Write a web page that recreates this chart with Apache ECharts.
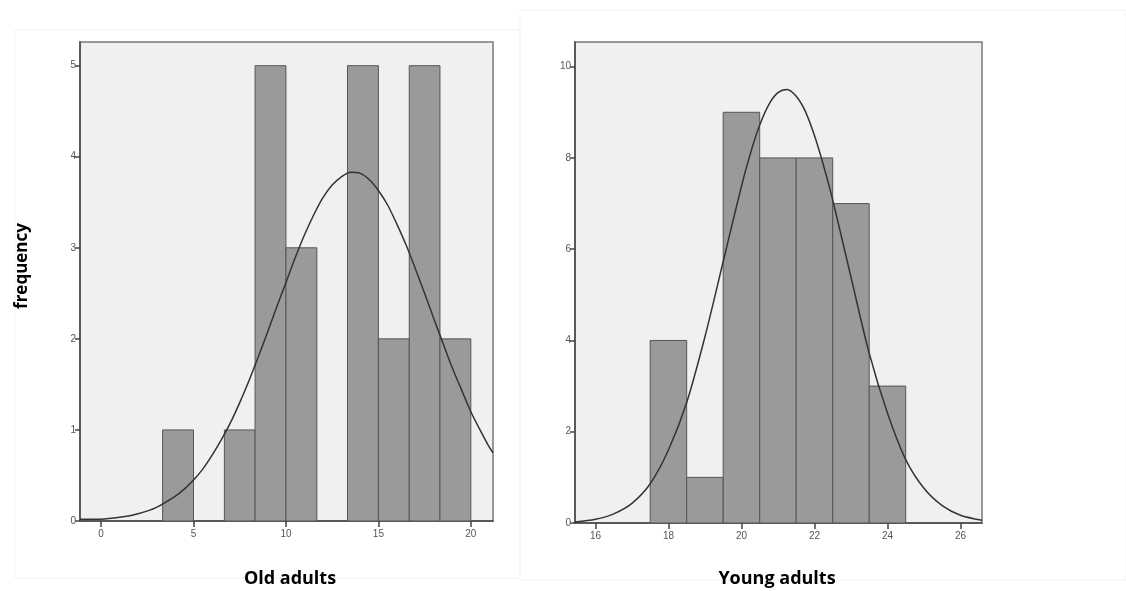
<!DOCTYPE html>
<html>
<head>
<meta charset="utf-8">
<script src="https://cdn.jsdelivr.net/npm/echarts@6/dist/echarts.min.js"></script>
<style>
html,body{margin:0;padding:0;background:#fff;}
#chart{width:1126px;height:591px;}
</style>
</head>
<body>
<div id="chart"></div>
<script>
// ---- Data ----
const oldBinEdges = [3.33, 5, 6.67, 8.33, 10, 11.67, 13.33, 15, 16.67, 18.33, 20];
const oldCounts = [1, 0, 1, 5, 3, 0, 5, 2, 5, 2];
const oldCurve = [[-1.14,0.02],[0,0.02],[1,0.04],[2,0.08],[3,0.15],[4,0.27],[4.5,0.35],[5,0.45],[5.5,0.57],[6,0.72],[6.5,0.89],[7,1.08],[7.5,1.3],[8,1.54],[8.5,1.8],[9,2.07],[9.5,2.35],[10,2.62],[10.5,2.89],[11,3.14],[11.5,3.36],[12,3.55],[12.5,3.69],[13,3.78],[13.5,3.83],[14,3.82],[14.5,3.75],[15,3.63],[15.5,3.47],[16,3.26],[16.5,3.03],[17,2.77],[17.5,2.5],[18,2.22],[18.5,1.95],[19,1.68],[19.5,1.44],[20,1.2],[20.5,1.0],[21,0.81],[21.2,0.75]];
const oldXTicks = [0, 5, 10, 15, 20];
const oldYTicks = [0, 1, 2, 3, 4, 5];

const youngBinEdges = [17.5, 18.5, 19.5, 20.5, 21.5, 22.5, 23.5, 24.5];
const youngCounts = [4, 1, 9, 8, 8, 7, 3];
const youngCurve = [[15.44,0.02],[16,0.08],[16.5,0.2],[17,0.43],[17.5,0.86],[18,1.6],[18.5,2.64],[19,4.08],[19.5,5.73],[20,7.38],[20.25,8.11],[20.5,8.72],[20.75,9.17],[21,9.43],[21.25,9.5],[21.5,9.35],[21.75,9.02],[22,8.49],[22.25,7.83],[22.5,7.08],[23,5.39],[23.5,3.72],[24,2.41],[24.5,1.39],[25,0.76],[25.5,0.38],[26,0.17],[26.59,0.06]];
const youngXTicks = [16, 18, 20, 22, 24, 26];
const youngYTicks = [0, 2, 4, 6, 8, 10];

const panelTitles = ['Old adults', 'Young adults'];
const yAxisTitle = 'frequency';

// ---- Build ----
function binData(edges, counts) {
  const out = [];
  for (let i = 0; i < counts.length; i++) out.push([edges[i], edges[i + 1], counts[i]]);
  return out;
}
function renderBin(params, api) {
  const c = api.value(2);
  if (!c) return null;
  const p0 = api.coord([api.value(0), c]);
  const p1 = api.coord([api.value(1), 0]);
  return {
    type: 'rect',
    shape: { x: p0[0], y: p0[1], width: p1[0] - p0[0], height: p1[1] - p0[1] },
    style: { fill: '#9a9a9a', stroke: '#555', lineWidth: 1 }
  };
}
const axisLabelStyle = { color: '#555', fontSize: 10, fontFamily: 'Liberation Sans, Arial, sans-serif' };
function xAxis(gi, min, max, ticks) {
  return {
    type: 'value', gridIndex: gi, min: min, max: max,
    splitLine: { show: false },
    axisLine: { show: true, onZero: false, lineStyle: { color: '#444', width: 1.5 } },
    axisTick: { show: true, length: 6, customValues: ticks, lineStyle: { color: '#444', width: 1.5 } },
    axisLabel: Object.assign({ customValues: ticks, margin: 8 }, axisLabelStyle)
  };
}
function yAxis(gi, max, ticks) {
  return {
    type: 'value', gridIndex: gi, min: 0, max: max,
    splitLine: { show: false },
    axisLine: { show: true, onZero: false, lineStyle: { color: '#444', width: 1.5 } },
    axisTick: { show: true, length: 5, customValues: ticks, lineStyle: { color: '#444', width: 1.5 } },
    axisLabel: Object.assign({ customValues: ticks, margin: 4 }, axisLabelStyle)
  };
}

const chart = echarts.init(document.getElementById('chart'), null, { renderer: 'canvas' });
chart.setOption({
  backgroundColor: '#fff',
  animation: false,
  grid: [
    { left: 80, top: 42, width: 413, height: 479, show: true, backgroundColor: '#f0f0f0', borderColor: '#7a7a7a', borderWidth: 1.5 },
    { left: 575, top: 42, width: 407, height: 481, show: true, backgroundColor: '#f0f0f0', borderColor: '#7a7a7a', borderWidth: 1.5 }
  ],
  xAxis: [xAxis(0, -1.14, 21.2, oldXTicks), xAxis(1, 15.44, 26.59, youngXTicks)],
  yAxis: [yAxis(0, 5.26, oldYTicks), yAxis(1, 10.54, youngYTicks)],
  graphic: [
    { type: 'rect', shape: { x: 15, y: 30, width: 505, height: 548 }, style: { fill: 'none', stroke: '#f3f3f3', lineWidth: 1 }, z: -1 },
    { type: 'rect', shape: { x: 520, y: 10, width: 606, height: 570 }, style: { fill: 'none', stroke: '#f5f5f5', lineWidth: 1 }, z: -1 },
    { type: 'text', x: 290, y: 579, style: { text: panelTitles[0], fill: '#000', font: 'bold 18px "Open Sans", "Liberation Sans", sans-serif', textAlign: 'center', textVerticalAlign: 'middle' } },
    { type: 'text', x: 777, y: 579, style: { text: panelTitles[1], fill: '#000', font: 'bold 18px "Open Sans", "Liberation Sans", sans-serif', textAlign: 'center', textVerticalAlign: 'middle' } },
    { type: 'text', x: 22, y: 266, rotation: Math.PI / 2, style: { text: yAxisTitle, fill: '#000', font: 'bold 17px "Open Sans", "Liberation Sans", sans-serif', textAlign: 'center', textVerticalAlign: 'middle' } }
  ],
  series: [
    { type: 'custom', xAxisIndex: 0, yAxisIndex: 0, renderItem: renderBin, encode: { x: [0, 1], y: 2 }, data: binData(oldBinEdges, oldCounts), clip: true },
    { type: 'line', xAxisIndex: 0, yAxisIndex: 0, data: oldCurve, smooth: 0.3, showSymbol: false, lineStyle: { color: '#333', width: 1.5 }, z: 5 },
    { type: 'custom', xAxisIndex: 1, yAxisIndex: 1, renderItem: renderBin, encode: { x: [0, 1], y: 2 }, data: binData(youngBinEdges, youngCounts), clip: true },
    { type: 'line', xAxisIndex: 1, yAxisIndex: 1, data: youngCurve, smooth: 0.3, showSymbol: false, lineStyle: { color: '#333', width: 1.5 }, z: 5 }
  ]
});
</script>
</body>
</html>
